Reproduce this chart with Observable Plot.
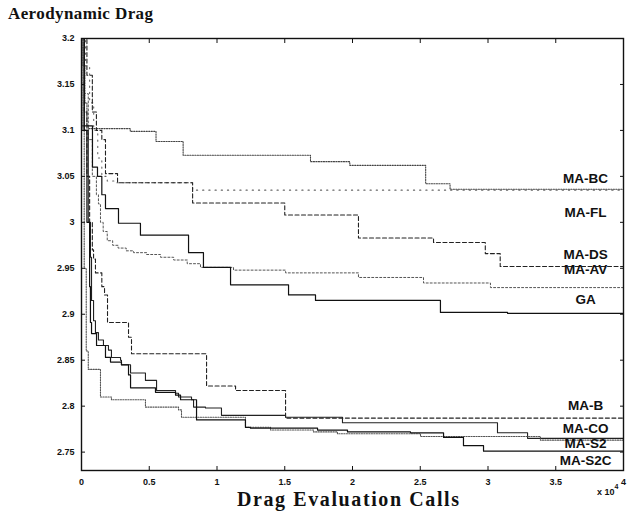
<!DOCTYPE html>
<html><head><meta charset="utf-8">
<script src="https://cdn.jsdelivr.net/npm/d3@7"></script>
<script src="https://cdn.jsdelivr.net/npm/@observablehq/plot@0.6"></script>
<style>
body{margin:0;background:#fff;}
#wrap{position:relative;width:627px;height:513px;overflow:hidden;}
.t{position:absolute;font-family:"Liberation Serif","Times New Roman",serif;font-weight:bold;color:#111;white-space:nowrap;line-height:1;}
</style></head><body>
<div id="wrap"></div>
<script>
// ---- data (x in units of 10^4 drag evaluation calls, y = aerodynamic drag) ----
const seriesNames = ["MA-BC","MA-FL","MA-DS","MA-AV","GA","MA-B","MA-CO","MA-S2","MA-S2C"];

const bcX = [0, 0.01, 0.025, 0.04, 0.05, 0.36, 0.55, 0.75, 1.69, 1.98, 2.54, 2.72, 4];
const bcY = [3.2, 3.17, 3.13, 3.105, 3.102, 3.099, 3.088, 3.073, 3.066, 3.062, 3.042, 3.036, 3.036];

const flX = [0, 0.03, 0.06, 0.09, 0.12, 0.15, 0.19, 0.26, 0.82, 4];
const flY = [3.2, 3.17, 3.13, 3.1, 3.07, 3.05, 3.045, 3.043, 3.035, 3.035];

const dsX = [0, 0.04, 0.08, 0.11, 0.15, 0.177, 0.266, 0.82, 1.5, 2.044, 2.598, 2.98, 3.09, 4];
const dsY = [3.2, 3.16, 3.12, 3.1, 3.09, 3.053, 3.043, 3.021, 3.008, 2.983, 2.978, 2.966, 2.952, 2.952];

const avX = [0, 0.02, 0.05, 0.08, 0.11, 0.125, 0.14, 0.16, 0.19, 0.23, 0.27, 0.33, 0.384, 0.48, 0.583, 0.68, 0.78, 0.878, 1.122, 1.506, 2.044, 2.524, 3.018, 4];
const avY = [3.19, 3.14, 3.09, 3.05, 3.03, 3.02, 3.0, 2.99, 2.98, 2.975, 2.972, 2.969, 2.967, 2.965, 2.962, 2.959, 2.955, 2.951, 2.948, 2.945, 2.94, 2.934, 2.929, 2.929];

const gaX = [0, 0.081, 0.118, 0.15, 0.177, 0.273, 0.435, 0.79, 0.9, 1.1, 1.528, 1.727, 2.649, 3.144, 4];
const gaY = [3.105, 3.06, 3.05, 3.03, 3.015, 2.999, 2.986, 2.967, 2.951, 2.932, 2.921, 2.915, 2.902, 2.901, 2.901];

const bX = [0, 0.02, 0.04, 0.06, 0.08, 0.089, 0.103, 0.15, 0.17, 0.192, 0.347, 0.369, 0.923, 1.137, 1.506, 4];
const bY = [3.2, 3.12, 3.05, 3.0, 2.97, 2.96, 2.945, 2.93, 2.921, 2.891, 2.875, 2.857, 2.822, 2.817, 2.787, 2.787];

const coX = [0, 0.02, 0.05, 0.066, 0.074, 0.089, 0.103, 0.125, 0.162, 0.199, 0.221, 0.288, 0.295, 0.362, 0.472, 0.554, 0.694, 0.716, 0.812, 0.827, 0.915, 1.033, 1.506, 1.926, 3.07, 3.292, 4];
const coY = [3.2, 3.1, 3.0, 2.962, 2.915, 2.893, 2.88, 2.872, 2.866, 2.861, 2.853, 2.85, 2.845, 2.836, 2.828, 2.817, 2.814, 2.81, 2.807, 2.799, 2.798, 2.79, 2.788, 2.782, 2.771, 2.765, 2.765];

const s2X = [0, 0.01, 0.02, 0.035, 0.05, 0.14, 0.221, 0.472, 0.716, 0.738, 1.21, 1.395, 1.712, 1.889, 2.502, 3.387, 4];
const s2Y = [3.2, 3.1, 2.95, 2.86, 2.84, 2.81, 2.807, 2.799, 2.796, 2.788, 2.777, 2.774, 2.772, 2.77, 2.767, 2.763, 2.763];

const s2cX = [0, 0.02, 0.04, 0.06, 0.066, 0.074, 0.111, 0.177, 0.214, 0.295, 0.347, 0.362, 0.546, 0.694, 0.731, 0.849, 1.21, 1.247, 1.742, 1.963, 2.428, 2.672, 2.819, 2.967, 4];
const s2cY = [3.2, 3.1, 3.0, 2.93, 2.891, 2.879, 2.866, 2.853, 2.848, 2.845, 2.834, 2.82, 2.815, 2.812, 2.807, 2.785, 2.777, 2.776, 2.774, 2.772, 2.771, 2.766, 2.757, 2.751, 2.751];

const labelY = [3.048, 3.01, 2.965, 2.948, 2.916, 2.8, 2.775, 2.759, 2.741];

const xTicks = [0, 0.5, 1, 1.5, 2, 2.5, 3, 3.5, 4];
const yTicks = [2.75, 2.8, 2.85, 2.9, 2.95, 3, 3.05, 3.1, 3.15, 3.2];

// ---- build ----
const xs = [bcX, flX, dsX, avX, gaX, bX, coX, s2X, s2cX];
const ys = [bcY, flY, dsY, avY, gaY, bY, coY, s2Y, s2cY];
const rows = seriesNames.map((name, k) => xs[k].map((x, i) => ({series: name, x, y: ys[k][i]})));

const styles = {
  "MA-BC":  {stroke: "#444", dash: "1.2,1.3", w: 1.1},
  "MA-FL":  {stroke: "#666", dash: "1.2,5", w: 1.1},
  "MA-DS":  {stroke: "#222", dash: "4,2.5", w: 1.1},
  "MA-AV":  {stroke: "#555", dash: "2,2", w: 1},
  "GA":     {stroke: "#111", dash: null, w: 1.2},
  "MA-B":   {stroke: "#222", dash: "4,2.5", w: 1.1},
  "MA-CO":  {stroke: "#222", dash: null, w: 1.1},
  "MA-S2":  {stroke: "#555", dash: "1.2,1.3", w: 1.1},
  "MA-S2C": {stroke: "#111", dash: null, w: 1.2}
};

const fmt = d => String(+d.toFixed(2));
const tickFont = {fontSize: 9, fontWeight: "bold", fontFamily: "Liberation Sans, Arial, sans-serif"};

const chart = Plot.plot({
  width: 627,
  height: 513,
  marginLeft: 81,
  marginRight: 4,
  marginTop: 38,
  marginBottom: 43,
  style: {background: "#fff", color: "#111"},
  x: {domain: [0, 4]},
  y: {domain: [2.73, 3.2]},
  marks: [
    ...rows.map((r, k) => {
      const s = styles[seriesNames[k]];
      return Plot.line(r, {x: "x", y: "y", curve: "step-after", stroke: s.stroke, strokeWidth: s.w, strokeDasharray: s.dash});
    }),
    Plot.text(seriesNames, {x: () => 3.72, y: (d, i) => labelY[i], text: d => d, fontSize: 13.5, fontWeight: "bold", fontFamily: "Liberation Sans, Arial, sans-serif", fill: "#111", textAnchor: "middle"}),
    Plot.axisY(yTicks, {anchor: "left", tickSize: -4, tickPadding: 11, tickFormat: fmt, label: null, ...tickFont}),
    Plot.axisY(yTicks, {anchor: "right", tickSize: -4, tickFormat: () => "", label: null}),
    Plot.axisX(xTicks, {anchor: "bottom", tickSize: -4, tickPadding: 12, tickFormat: fmt, label: null, ...tickFont}),
    Plot.axisX(xTicks, {anchor: "top", tickSize: -4, tickFormat: () => "", label: null}),
    Plot.frame({stroke: "#111", strokeWidth: 1.4})
  ]
});

const wrap = document.getElementById("wrap");
wrap.appendChild(chart);

function addText(html, css) {
  const d = document.createElement("div");
  d.className = "t";
  d.innerHTML = html;
  Object.assign(d.style, css);
  wrap.appendChild(d);
}
addText("Aerodynamic Drag", {left: "8px", top: "5px", fontSize: "17px", letterSpacing: "0.4px"});
addText("Drag Evaluation Calls", {left: "237px", top: "489px", fontSize: "20px", letterSpacing: "1.6px"});
addText("x 10<sup style='font-size:7px;vertical-align:top;position:relative;top:-5px'>4</sup>", {left: "597px", top: "488px", fontSize: "9px", fontFamily: "Liberation Sans, Arial, sans-serif"});
</script>
</body></html>
